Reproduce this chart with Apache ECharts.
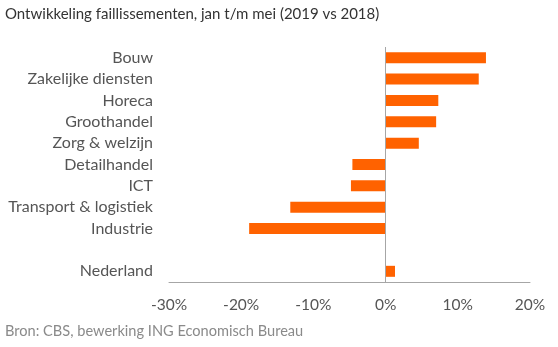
<!DOCTYPE html>
<html>
<head>
<meta charset="utf-8">
<script src="https://cdn.jsdelivr.net/npm/echarts@6/dist/echarts.min.js"></script>
<style>
  html, body { margin: 0; padding: 0; background: #fff; }
  #chart { width: 558px; height: 347px; }
</style>
</head>
<body>
<div id="chart"></div>
<script>
// Sectors, top to bottom; the empty entry leaves a gap above the national total
const sectors = ['Bouw', 'Zakelijke diensten', 'Horeca', 'Groothandel', 'Zorg & welzijn',
  'Detailhandel', 'ICT', 'Transport & logistiek', 'Industrie', '', 'Nederland'];
// Change in bankruptcies, Jan-May 2019 vs 2018, in %
const changePct = [13.9, 12.9, 7.3, 7.0, 4.6, -4.6, -4.8, -13.2, -18.9, null, 1.3];
// Value axis range and step (%)
const axisMin = -30;
const axisMax = 20;
const axisStep = 10;

const titleText = 'Ontwikkeling faillissementen, jan t/m mei (2019 vs 2018)';
const sourceText = 'Bron: CBS, bewerking ING Economisch Bureau';

const font = 'Lato, "Open Sans", sans-serif';
const chart = echarts.init(document.getElementById('chart'), null, { renderer: 'canvas' });

chart.setOption({
  animation: false,
  backgroundColor: '#ffffff',
  title: [
    {
      text: titleText,
      left: 0, top: 2,
      textStyle: { fontFamily: font, fontSize: 15, fontWeight: 'normal', color: '#333333' }
    },
    {
      text: sourceText,
      left: 0, top: 319,
      textStyle: { fontFamily: font, fontSize: 14.6, fontWeight: 'normal', color: '#8a8a8a' }
    }
  ],
  grid: { left: 169, right: 28, top: 47, bottom: 65, containLabel: false },
  xAxis: {
    type: 'value',
    min: axisMin, max: axisMax, interval: axisStep,
    splitLine: { show: false },
    axisTick: { show: false },
    axisLine: { show: true, onZero: false, lineStyle: { color: '#a6a6a6', width: 1 } },
    axisLabel: {
      margin: 15,
      fontFamily: font, fontSize: 15.5, color: '#555555',
      formatter: v => v + '%'
    }
  },
  yAxis: {
    type: 'category',
    data: sectors,
    inverse: true,
    axisLine: { show: false, onZero: false },
    axisTick: { show: false },
    splitLine: { show: false },
    axisLabel: { margin: 16, fontFamily: font, fontSize: 16, color: '#555555' }
  },
  series: [{
    type: 'bar',
    data: changePct,
    barWidth: 11,
    itemStyle: { color: '#ff6200' },
    markLine: {
      silent: true,
      symbol: 'none',
      label: { show: false },
      lineStyle: { color: '#a6a6a6', width: 1, type: 'solid' },
      data: [{ xAxis: 0 }]
    }
  }]
});
</script>
</body>
</html>
